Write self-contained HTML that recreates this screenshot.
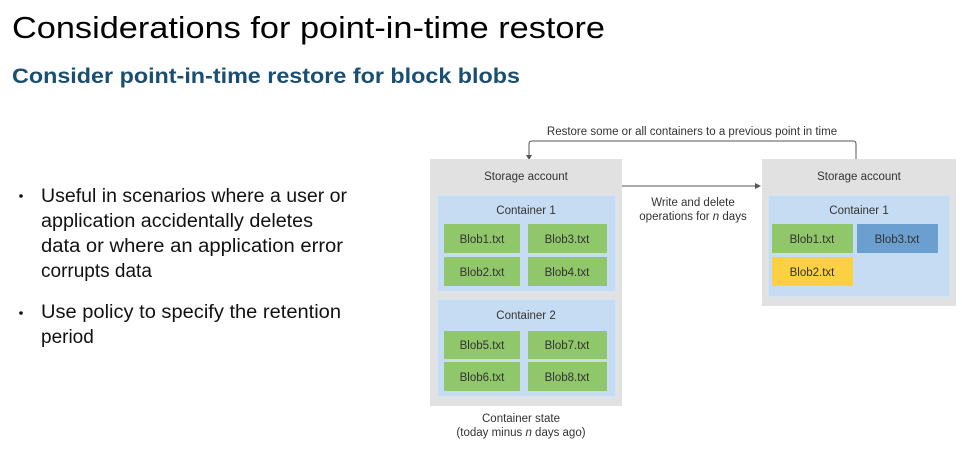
<!DOCTYPE html>
<html><head><meta charset="utf-8"><style>
html,body{margin:0;padding:0;background:#fff;}
svg{display:block;font-family:"Liberation Sans",sans-serif;}
</style></head><body>
<svg width="962" height="457" viewBox="0 0 962 457" xmlns="http://www.w3.org/2000/svg">
<text x="12" y="38" font-size="31" fill="#000" textLength="593" lengthAdjust="spacingAndGlyphs">Considerations for point-in-time restore</text>
<text x="12" y="83" font-size="21" font-weight="bold" fill="#1a4f72" textLength="508" lengthAdjust="spacingAndGlyphs">Consider point-in-time restore for block blobs</text>
<g font-size="19" fill="#111">
<circle cx="21" cy="196" r="1.8" fill="#111"/>
<text x="41" y="202" textLength="306" lengthAdjust="spacingAndGlyphs">Useful in scenarios where a user or</text>
<text x="41" y="227" textLength="272" lengthAdjust="spacingAndGlyphs">application accidentally deletes</text>
<text x="41" y="252" textLength="302" lengthAdjust="spacingAndGlyphs">data or where an application error</text>
<text x="41" y="277">corrupts data</text>
<circle cx="21" cy="313" r="1.8" fill="#111"/>
<text x="41" y="318" textLength="300" lengthAdjust="spacingAndGlyphs">Use policy to specify the retention</text>
<text x="41" y="343">period</text>
</g>
<g stroke="#555" stroke-width="1" fill="none">
<path d="M856 159 V144 Q856 141 853 141 H532 Q529 141 529 144 V156"/>
<path d="M622 186 H756"/>
</g>
<path d="M526 155 L532 155 L529 160 Z" fill="#555"/>
<path d="M755 183 L761 186 L755 189 Z" fill="#555"/>
<g font-size="11.5" fill="#333" text-anchor="middle">
<text x="692" y="135">Restore some or all containers to a previous point in time</text>
<text x="693" y="206">Write and delete</text>
<text x="693" y="220">operations for <tspan font-style="italic">n</tspan> days</text>
<text x="521" y="422">Container state</text>
<text x="521" y="436">(today minus <tspan font-style="italic">n</tspan> days ago)</text>
</g>
<rect x="430" y="159" width="192" height="247" fill="#e1e1e1"/>
<rect x="437" y="195" width="179" height="97" fill="#c6dcf2" stroke="#dde8f4"/>
<rect x="437" y="299" width="179" height="98" fill="#c6dcf2" stroke="#dde8f4"/>
<g fill="#8fc76a">
<rect x="444" y="224" width="76" height="29"/><rect x="528" y="224" width="79" height="29"/>
<rect x="444" y="257" width="76" height="29"/><rect x="528" y="257" width="79" height="29"/>
<rect x="444" y="331" width="76" height="28"/><rect x="528" y="331" width="79" height="28"/>
<rect x="444" y="362" width="76" height="29"/><rect x="528" y="362" width="79" height="29"/>
</g>
<rect x="762" y="159" width="194" height="147" fill="#e1e1e1"/>
<rect x="768" y="195" width="182" height="102" fill="#c6dcf2" stroke="#dde8f4"/>
<rect x="772" y="224" width="81" height="29" fill="#8fc76a"/>
<rect x="857" y="224" width="81" height="29" fill="#6a9fcf"/>
<rect x="772" y="257" width="81" height="29" fill="#fbd043"/>
<g font-size="11.5" fill="#333" text-anchor="middle">
<text x="526" y="180">Storage account</text>
<text x="526" y="214">Container 1</text>
<text x="526" y="319">Container 2</text>
<text x="482" y="243">Blob1.txt</text><text x="567" y="243">Blob3.txt</text>
<text x="482" y="276">Blob2.txt</text><text x="567" y="276">Blob4.txt</text>
<text x="482" y="349">Blob5.txt</text><text x="567" y="349">Blob7.txt</text>
<text x="482" y="381">Blob6.txt</text><text x="567" y="381">Blob8.txt</text>
<text x="859" y="180">Storage account</text>
<text x="859" y="214">Container 1</text>
<text x="812" y="243">Blob1.txt</text><text x="897" y="243">Blob3.txt</text>
<text x="812" y="276">Blob2.txt</text>
</g>
</svg>
</body></html>
